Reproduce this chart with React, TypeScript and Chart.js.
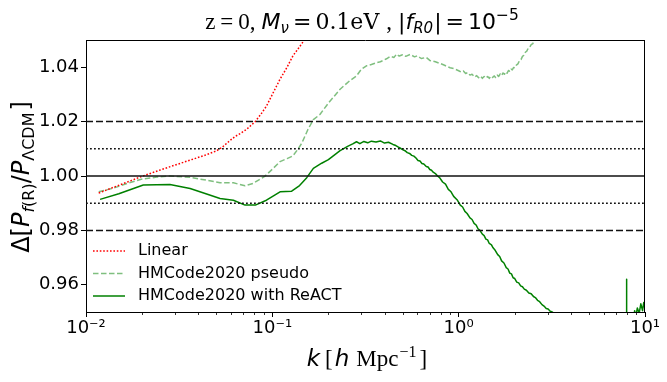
import React, { useEffect, useRef } from 'react';
import { Chart, registerables } from 'chart.js';

Chart.register(...registerables);

// ---------- data ----------
const kLinear = [0.0117, 0.014, 0.017, 0.0202, 0.025, 0.03, 0.036, 0.043, 0.05, 0.0537, 0.058, 0.063, 0.068, 0.0729, 0.0809, 0.087, 0.093, 0.1, 0.11, 0.12, 0.129, 0.14, 0.15, 0.16];
const linearRatio = [0.9937, 0.9958, 0.998, 1.0, 1.0022, 1.004, 1.0058, 1.0075, 1.0092, 1.0105, 1.0125, 1.0145, 1.0158, 1.0172, 1.02, 1.0228, 1.0257, 1.03, 1.0356, 1.04, 1.0442, 1.0475, 1.0504, 1.054];

const kPseudo = [0.0117, 0.014, 0.017, 0.0198, 0.024, 0.0282, 0.0362, 0.044, 0.0524, 0.0618, 0.0714, 0.079, 0.0915, 0.1, 0.11, 0.12, 0.129, 0.137, 0.144, 0.155, 0.166, 0.18, 0.2, 0.231, 0.26, 0.283, 0.3, 0.32, 0.34, 0.36, 0.38, 0.394, 0.41, 0.43, 0.45, 0.464, 0.48, 0.5, 0.52, 0.55, 0.58, 0.6, 0.63, 0.67, 0.7, 0.75, 0.8, 0.84, 0.87, 0.9, 0.95,
  1.0, 1.03, 1.06, 1.09, 1.12, 1.15, 1.18, 1.22, 1.25, 1.28, 1.31, 1.34, 1.37, 1.4, 1.43, 1.46, 1.49, 1.52, 1.55, 1.58, 1.61, 1.64, 1.67, 1.7, 1.73, 1.76, 1.79, 1.82, 1.85, 1.88, 1.91, 1.94, 1.97, 2.0, 2.04, 2.08, 2.12, 2.16, 2.2, 2.24, 2.28, 2.32, 2.36, 2.4, 2.45, 2.5, 2.55, 2.62, 2.8];
const pseudoRatio = [0.9942, 0.9955, 0.9975, 0.9988, 0.9996, 1.0, 0.9995, 0.9985, 0.9975, 0.9975, 0.9964, 0.9973, 1.0, 1.0025, 1.0053, 1.0064, 1.0074, 1.0098, 1.0121, 1.017, 1.0207, 1.0226, 1.0268, 1.0319, 1.035, 1.0368, 1.0392, 1.0405, 1.041, 1.0416, 1.042, 1.0425, 1.0431, 1.044, 1.0436, 1.0448, 1.0441, 1.0446, 1.044, 1.0447, 1.0438, 1.0442, 1.0432, 1.0436, 1.0425, 1.042, 1.0413, 1.0407, 1.0402, 1.0398, 1.0394,
  1.0387, 1.0382, 1.0386, 1.0377, 1.038, 1.0371, 1.0374, 1.0364, 1.0369, 1.0361, 1.0367, 1.0359, 1.0366, 1.036, 1.0366, 1.0359, 1.0367, 1.0362, 1.0368, 1.0362, 1.0371, 1.0366, 1.0375, 1.0369, 1.0379, 1.0374, 1.0383, 1.0378, 1.0388, 1.0385, 1.0393, 1.039, 1.0399, 1.0398, 1.0408, 1.0412, 1.0424, 1.0428, 1.044, 1.0444, 1.0455, 1.0459, 1.0469, 1.0472, 1.0483, 1.0487, 1.0497, 1.0506, 1.053];

const kReact = [0.0119, 0.015, 0.0203, 0.0282, 0.0362, 0.044, 0.0524, 0.0618, 0.0714, 0.081, 0.093, 0.11, 0.127, 0.14, 0.153, 0.166, 0.184, 0.2, 0.231, 0.255, 0.27, 0.283, 0.295, 0.31, 0.325, 0.34, 0.36, 0.38, 0.4, 0.42,
  0.444, 0.46, 0.475, 0.49, 0.5, 0.515, 0.53, 0.545, 0.56, 0.575, 0.59, 0.605, 0.62, 0.635, 0.65, 0.67, 0.685, 0.7, 0.715, 0.73, 0.75, 0.77, 0.79, 0.82, 0.85, 0.88, 0.91, 0.94, 0.98,
  1.02, 1.05, 1.08, 1.11, 1.15, 1.18, 1.21, 1.24, 1.27, 1.3, 1.34, 1.37, 1.4, 1.43, 1.46, 1.5, 1.53, 1.57, 1.62, 1.66, 1.7, 1.75, 1.8, 1.84, 1.88, 1.92, 1.96,
  2.0, 2.05, 2.1, 2.15, 2.2, 2.25, 2.31, 2.38, 2.45, 2.52, 2.58, 2.65, 2.72, 2.8, 2.87, 2.95, 3.02, 3.1, 3.18, 3.25, 3.4, 3.6,
  5.0, 7.97, 7.97, 7.97, 8.6, 8.8, 8.9, 9.1, 9.3, 9.5, 9.7, 9.85, 10.0];
const reactRatio = [0.9914, 0.9935, 0.9967, 0.9969, 0.9954, 0.9935, 0.9917, 0.9911, 0.9893, 0.9893, 0.9911, 0.9942, 0.9944, 0.9965, 0.9994, 1.0028, 1.0047, 1.006, 1.0093, 1.011, 1.0118, 1.0126, 1.0119, 1.0127, 1.0122, 1.0128, 1.0125, 1.0129, 1.0121, 1.0124,
  1.0116, 1.0112, 1.0106, 1.0101, 1.0097, 1.0093, 1.0086, 1.0083, 1.0076, 1.0073, 1.0066, 1.0057, 1.0055, 1.0046, 1.0044, 1.0035, 1.0033, 1.0024, 1.0021, 1.0014, 1.0009, 1.0, 0.9994, 0.9978, 0.997, 0.9951, 0.9942, 0.9925, 0.9913,
  0.9893, 0.9886, 0.987, 0.9862, 0.9846, 0.984, 0.9826, 0.982, 0.9806, 0.98, 0.9786, 0.9781, 0.9768, 0.9765, 0.9752, 0.9747, 0.9736, 0.9727, 0.9711, 0.9704, 0.9688, 0.968, 0.9663, 0.9658, 0.9643, 0.964, 0.9626,
  0.9623, 0.961, 0.9607, 0.9596, 0.9593, 0.9584, 0.958, 0.957, 0.9567, 0.9557, 0.9553, 0.9543, 0.9538, 0.9527, 0.9522, 0.9513, 0.9511, 0.9503, 0.95, 0.9495, 0.9485, 0.947,
  0.94, 0.935, 0.962, 0.935, 0.945, 0.9505, 0.948, 0.9515, 0.9495, 0.953, 0.9505, 0.9535, 0.951];

const seriesLabels = ['Linear', 'HMCode2020 pseudo', 'HMCode2020 with ReACT'];
const refDashed = [1.02, 0.98];
const refDotted = [1.01, 0.99];
const refSolid = [1.0];
const xRange = [0.01, 10];
const yRange = [0.95, 1.05];
const yTicks = [0.96, 0.98, 1.0, 1.02, 1.04];
const xMajorTicks = [0.01, 0.1, 1, 10];
const xTickLabels = ['10⁻²', '10⁻¹', '10⁰', '10¹'];
const xMinorMultipliers = [2, 3, 4, 5, 6, 7, 8, 9];

// ---------- helpers ----------
const SANS = "'DejaVu Sans'";
const SERIF = "'Liberation Serif'";
const pts = (xs: number[], ys: number[]) => xs.map((x, i) => ({ x, y: ys[i] }));
const hline = (v: number) => [{ x: xRange[0], y: v }, { x: xRange[1], y: v }];

type Run = { t: string; font: string; dy?: number; gap?: number };

function runsWidth(ctx: CanvasRenderingContext2D, runs: Run[]) {
  let w = 0;
  runs.forEach((r) => {
    ctx.font = r.font;
    w += (r.gap || 0) + ctx.measureText(r.t).width;
  });
  return w;
}

function drawRuns(ctx: CanvasRenderingContext2D, runs: Run[], x: number, y: number) {
  let cx = x;
  runs.forEach((r) => {
    cx += r.gap || 0;
    ctx.font = r.font;
    ctx.fillText(r.t, cx, y + (r.dy || 0));
    cx += ctx.measureText(r.t).width;
  });
}

const titleRuns: Run[] = [
  { t: 'z', font: `23px ${SERIF}` },
  { t: '=', font: `23px ${SERIF}`, gap: 5 },
  { t: '0,', font: `23px ${SERIF}`, gap: 5 },
  { t: 'M', font: `italic 22px ${SANS}`, gap: 6 },
  { t: 'ν', font: `italic 15px ${SANS}`, dy: 4 },
  { t: '=', font: `22px ${SANS}`, gap: 4 },
  { t: '0.1eV', font: `22px 'DejaVu Serif'`, gap: 4 },
  { t: ',', font: `23px ${SERIF}`, gap: 7 },
  { t: '|', font: `22px ${SANS}`, gap: 6 },
  { t: 'f', font: `italic 22px ${SANS}` },
  { t: 'R0', font: `italic 15px ${SANS}`, dy: 4 },
  { t: '|', font: `22px ${SANS}`, gap: 1 },
  { t: '=', font: `22px ${SANS}`, gap: 4 },
  { t: '10', font: `22px ${SANS}`, gap: 4 },
  { t: '−5', font: `15.5px ${SANS}`, dy: -9 },
];

const xLabelRuns: Run[] = [
  { t: 'k', font: `italic 23px ${SANS}` },
  { t: '[', font: `23px ${SERIF}`, gap: 5 },
  { t: 'h', font: `italic 23px ${SANS}`, gap: 2 },
  { t: 'Mpc', font: `23px ${SERIF}`, gap: 7 },
  { t: '−1', font: `16px ${SERIF}`, dy: -9, gap: 1 },
  { t: ']', font: `23px ${SERIF}`, gap: 3 },
];

const yLabelRuns: Run[] = [
  { t: 'Δ[', font: `24px ${SANS}` },
  { t: 'P', font: `italic 24px ${SANS}` },
  { t: 'f', font: `italic 16px ${SANS}`, dy: 5 },
  { t: '(R)', font: `16px ${SANS}`, dy: 5 },
  { t: '/', font: `24px ${SANS}` },
  { t: 'P', font: `italic 24px ${SANS}` },
  { t: 'ΛCDM', font: `16px ${SANS}`, dy: 5 },
  { t: ']', font: `24px ${SANS}`, gap: 2 },
];

const decorPlugin = {
  id: 'decor',
  afterDraw(chart: any) {
    const ctx: CanvasRenderingContext2D = chart.ctx;
    const a = chart.chartArea;
    const xs = chart.scales.x;
    ctx.save();
    // top & right spines
    ctx.strokeStyle = '#000';
    ctx.lineWidth = 1;
    ctx.beginPath();
    ctx.moveTo(a.left, Math.round(a.top) + 0.5);
    ctx.lineTo(a.right, Math.round(a.top) + 0.5);
    ctx.moveTo(Math.round(a.right) - 0.5, a.top);
    ctx.lineTo(Math.round(a.right) - 0.5, a.bottom);
    ctx.stroke();
    // minor x ticks
    ctx.lineWidth = 0.8;
    ctx.beginPath();
    xMajorTicks.slice(0, -1).forEach((d) => {
      xMinorMultipliers.forEach((m) => {
        const px = Math.round(xs.getPixelForValue(m * d)) + 0.5;
        ctx.moveTo(px, a.bottom);
        ctx.lineTo(px, a.bottom + 3);
      });
    });
    ctx.stroke();

    // legend
    const ds = chart.data.datasets.slice(-3);
    const rows = [251, 273.5, 296];
    ds.forEach((d: any, i: number) => {
      const y = rows[i];
      ctx.strokeStyle = d.borderColor;
      ctx.lineWidth = d.borderWidth;
      ctx.setLineDash(d.borderDash || []);
      ctx.beginPath();
      ctx.moveTo(93, y);
      ctx.lineTo(125, y);
      ctx.stroke();
      ctx.setLineDash([]);
      ctx.fillStyle = '#000';
      ctx.font = `16px ${SANS}`;
      ctx.textBaseline = 'middle';
      ctx.textAlign = 'left';
      ctx.fillText(seriesLabels[i], 138, y);
    });

    // title
    ctx.fillStyle = '#000';
    ctx.textBaseline = 'alphabetic';
    ctx.textAlign = 'left';
    const tw = runsWidth(ctx, titleRuns);
    drawRuns(ctx, titleRuns, 362 - tw / 2, 29);

    // x label
    const xw = runsWidth(ctx, xLabelRuns);
    drawRuns(ctx, xLabelRuns, 367 - xw / 2, 366);

    // y label
    const yw = runsWidth(ctx, yLabelRuns);
    ctx.translate(28.5, 177);
    ctx.rotate(-Math.PI / 2);
    drawRuns(ctx, yLabelRuns, -yw / 2, 0);
    ctx.restore();
  },
};

export default function App() {
  const ref = useRef<HTMLCanvasElement>(null);
  useEffect(() => {
    const canvas = ref.current;
    if (!canvas) return;
    const lineBase = { pointRadius: 0, fill: false, tension: 0, clip: 0, borderJoinStyle: 'round' as const };
    const chart = new Chart(canvas, {
      type: 'line',
      data: {
        datasets: [
          ...refDashed.map((v) => ({ ...lineBase, data: hline(v), borderColor: '#111', borderWidth: 1.5, borderDash: [7, 3] })),
          ...refDotted.map((v) => ({ ...lineBase, data: hline(v), borderColor: '#111', borderWidth: 1.5, borderDash: [1.8, 2.2] })),
          ...refSolid.map((v) => ({ ...lineBase, data: hline(v), borderColor: '#111', borderWidth: 1.6 })),
          { ...lineBase, label: seriesLabels[0], data: pts(kLinear, linearRatio), borderColor: '#ff0000', borderWidth: 1.5, borderDash: [1.6, 1.8] },
          { ...lineBase, label: seriesLabels[1], data: pts(kPseudo, pseudoRatio), borderColor: 'rgba(0,128,0,0.5)', borderWidth: 1.5, borderDash: [5.5, 2.5] },
          { ...lineBase, label: seriesLabels[2], data: pts(kReact, reactRatio), borderColor: '#008000', borderWidth: 1.5 },
        ],
      },
      options: {
        responsive: false,
        devicePixelRatio: 1,
        animation: false,
        events: [],
        layout: { padding: { left: 0, top: 40, right: 22, bottom: 0 } },
        plugins: { legend: { display: false }, title: { display: false }, tooltip: { enabled: false } },
        scales: {
          x: {
            type: 'logarithmic',
            min: xRange[0],
            max: xRange[1],
            afterBuildTicks: (s: any) => {
              s.ticks = xMajorTicks.map((v) => ({ value: v, major: true }));
            },
            ticks: {
              autoSkip: false,
              maxRotation: 0,
              padding: 1,
              color: '#000',
              font: { family: 'DejaVu Sans', size: 18 },
              callback: (v: any) => {
                const i = xMajorTicks.findIndex((t) => Math.abs(Math.log10(t) - Math.log10(Number(v))) < 1e-6);
                return i >= 0 ? xTickLabels[i] : '';
              },
            },
            grid: { display: true, drawOnChartArea: false, drawTicks: true, tickLength: 5, tickColor: '#000', tickWidth: 1 },
            border: { display: true, color: '#000', width: 1 },
            afterFit: (s: any) => {
              s.height = 70;
              s.paddingLeft = 0;
              s.paddingRight = 0;
            },
          },
          y: {
            type: 'linear',
            min: yRange[0],
            max: yRange[1],
            afterBuildTicks: (s: any) => {
              s.ticks = yTicks.map((v) => ({ value: v }));
            },
            ticks: {
              padding: 2,
              color: '#000',
              font: { family: 'DejaVu Sans', size: 18 },
              callback: (v: any) => Number(v).toFixed(2),
            },
            grid: { display: true, drawOnChartArea: false, drawTicks: true, tickLength: 5, tickColor: '#000', tickWidth: 1 },
            border: { display: true, color: '#000', width: 1 },
            afterFit: (s: any) => {
              s.width = 86;
              s.paddingTop = 0;
              s.paddingBottom = 0;
            },
          },
        },
      },
      plugins: [decorPlugin],
    });
    return () => chart.destroy();
  }, []);
  return (
    <div style={{ position: 'absolute', left: 0, top: 0, width: 667, height: 382, background: '#fff' }}>
      <canvas ref={ref} width={667} height={382} style={{ display: 'block', width: 667, height: 382 }} />
    </div>
  );
}
